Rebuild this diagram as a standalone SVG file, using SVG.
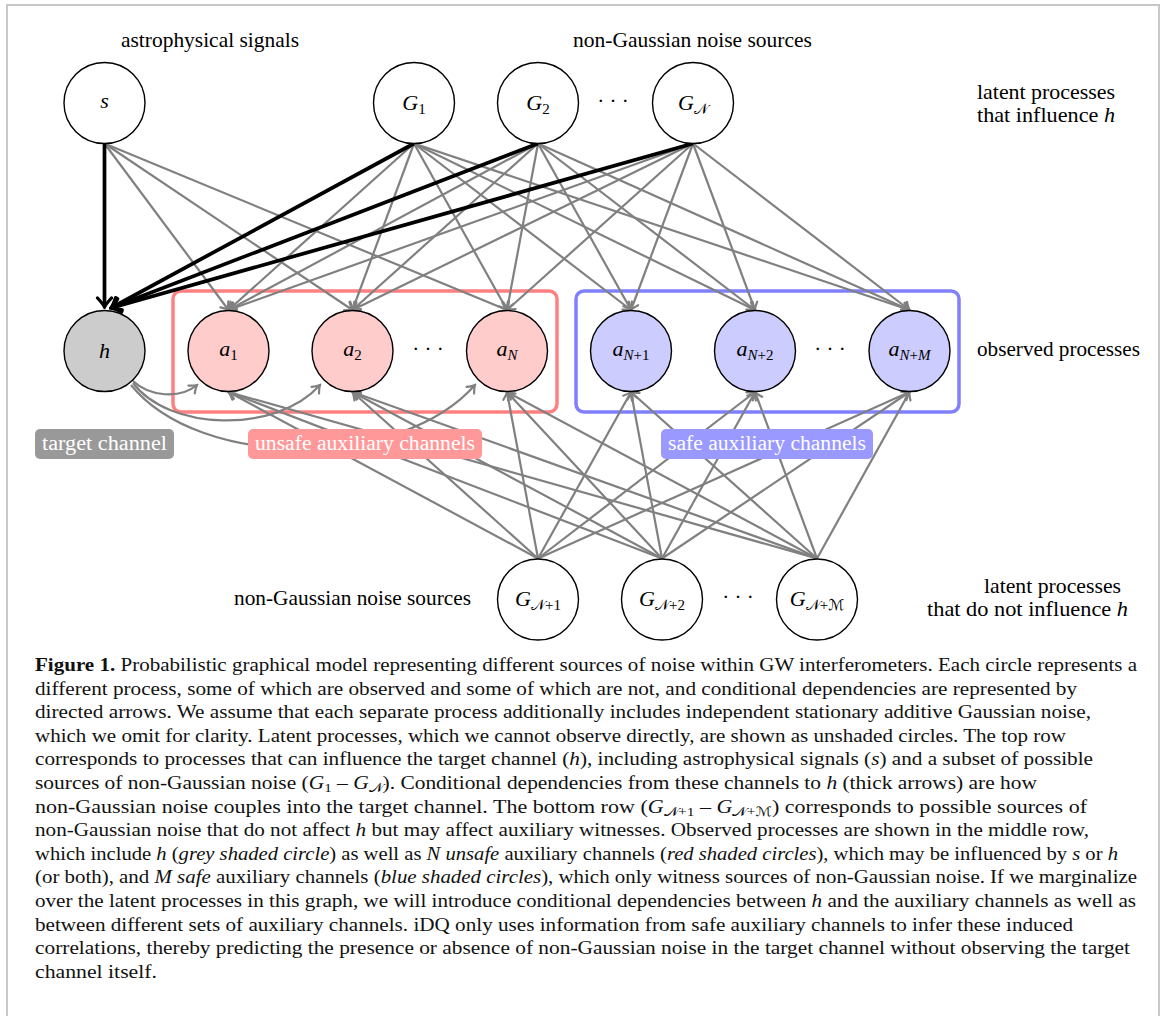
<svg xmlns="http://www.w3.org/2000/svg" width="1167" height="1016" viewBox="0 0 1167 1016" font-family="'Liberation Serif', 'Times New Roman', serif">
<defs>
<style>
.lbl{font-family:'Liberation Serif','Times New Roman',serif;font-size:21px;fill:#000}
.m{font-family:'Liberation Serif','Times New Roman',serif;font-style:italic;font-size:22px;text-anchor:middle;fill:#000}
.sb{font-size:15px;font-style:normal}
.it{font-style:italic}
.cal{font-family:'DejaVu Sans','Noto Sans',serif;font-style:normal}
.cap{font-family:'Liberation Serif','Times New Roman',serif;font-size:18.5px;fill:#111}
.tag{font-family:'Liberation Serif','Times New Roman',serif;font-size:20px;fill:#fff;text-anchor:middle}
.n{stroke:#000;stroke-width:1.4;fill:#fff}
.e{stroke:#808080;stroke-width:2.2;fill:none;marker-end:url(#ag)}
.t{stroke:#000;stroke-width:3.7;fill:none;marker-end:url(#ab)}
</style>
<marker id="ag" viewBox="-10 -8 12 16" markerWidth="12" markerHeight="16" refX="0" refY="0" orient="auto" markerUnits="userSpaceOnUse">
<path d="M-7,-5 Q-2.5,-1 0,0 Q-2.5,1 -7,5" fill="none" stroke="#808080" stroke-width="2.2" stroke-linecap="round"/>
</marker>
<marker id="ab" viewBox="-12 -10 14 20" markerWidth="14" markerHeight="20" refX="0" refY="0" orient="auto" markerUnits="userSpaceOnUse">
<path d="M-9,-7 Q-3,-1.5 0,0 Q-3,1.5 -9,7" fill="none" stroke="#000" stroke-width="3.2" stroke-linecap="round"/>
</marker>
</defs>
<rect width="1167" height="1016" fill="#fff"/>
<path d="M7,1016 V5 H1159 V1016" fill="none" stroke="#c8c8c8" stroke-width="2"/>

<g id="group-unsafe">
<rect x="173" y="291" width="384" height="121" rx="8" fill="none" stroke="#ff8080" stroke-width="3.5"/>
</g>
<g id="group-safe">
<rect x="576" y="291" width="383" height="121" rx="8" fill="none" stroke="#8080ff" stroke-width="3.5"/>
</g>

<g id="connectors">
<path class="e" d="M104.5,143.5 L228.5,310"/>
<path class="e" d="M104.5,143.5 L352.5,310"/>
<path class="e" d="M104.5,143.5 L507,310"/>
<path class="e" d="M414,143.5 L228.5,310"/>
<path class="e" d="M414,143.5 L352.5,310"/>
<path class="e" d="M414,143.5 L507,310"/>
<path class="e" d="M414,143.5 L631,310"/>
<path class="e" d="M414,143.5 L755,310"/>
<path class="e" d="M414,143.5 L909.5,310"/>
<path class="e" d="M538,143.5 L228.5,310"/>
<path class="e" d="M538,143.5 L352.5,310"/>
<path class="e" d="M538,143.5 L507,310"/>
<path class="e" d="M538,143.5 L631,310"/>
<path class="e" d="M538,143.5 L755,310"/>
<path class="e" d="M538,143.5 L909.5,310"/>
<path class="e" d="M693,143.5 L228.5,310"/>
<path class="e" d="M693,143.5 L352.5,310"/>
<path class="e" d="M693,143.5 L507,310"/>
<path class="e" d="M693,143.5 L631,310"/>
<path class="e" d="M693,143.5 L755,310"/>
<path class="e" d="M693,143.5 L909.5,310"/>
<path class="t" d="M104.5,143.5 L104.5,307"/>
<path class="t" d="M414,143.5 L111,308"/>
<path class="t" d="M538,143.5 L111,308"/>
<path class="t" d="M693,143.5 L111,308"/>
<path class="e" d="M538,558.5 L228.5,392"/>
<path class="e" d="M538,558.5 L352.5,392"/>
<path class="e" d="M538,558.5 L507,392"/>
<path class="e" d="M538,558.5 L631,392"/>
<path class="e" d="M538,558.5 L755,392"/>
<path class="e" d="M538,558.5 L909.5,392"/>
<path class="e" d="M662,558.5 L228.5,392"/>
<path class="e" d="M662,558.5 L352.5,392"/>
<path class="e" d="M662,558.5 L507,392"/>
<path class="e" d="M662,558.5 L631,392"/>
<path class="e" d="M662,558.5 L755,392"/>
<path class="e" d="M662,558.5 L909.5,392"/>
<path class="e" d="M817,558.5 L228.5,392"/>
<path class="e" d="M817,558.5 L352.5,392"/>
<path class="e" d="M817,558.5 L507,392"/>
<path class="e" d="M817,558.5 L631,392"/>
<path class="e" d="M817,558.5 L755,392"/>
<path class="e" d="M817,558.5 L909.5,392"/>
<path class="e" d="M133,381 C150,397 180,399 197,385"/>
<path class="e" d="M133,383 C168,430 275,435 320,385"/>
<path class="e" d="M131,385 C200,470 400,470 475,385"/>
</g>

<g id="node-s"><circle class="n" cx="104.5" cy="103" r="40.5"/><text class="m" x="104.5" y="108">s</text></g>
<g id="node-G1"><circle class="n" cx="414" cy="103" r="40.5"/><text class="m" x="414" y="110">G<tspan class="sb" dy="4">1</tspan></text></g>
<g id="node-G2"><circle class="n" cx="538" cy="103" r="40.5"/><text class="m" x="538" y="110">G<tspan class="sb" dy="4">2</tspan></text></g>
<g id="dots-top"><text class="lbl" x="613" y="108" text-anchor="middle">· · ·</text></g>
<g id="node-GN"><circle class="n" cx="693" cy="103" r="40.5"/><text class="m" x="693" y="110">G<tspan class="sb cal" dy="4">𝒩</tspan></text></g>

<g id="node-h"><circle cx="104.5" cy="351" r="40.5" class="n" style="fill:#cccccc"/><text class="m" x="104.5" y="358">h</text></g>
<g id="node-a1"><circle cx="228.5" cy="351" r="40.5" class="n" style="fill:#ffcccc"/><text class="m" x="228.5" y="356">a<tspan class="sb" dy="4">1</tspan></text></g>
<g id="node-a2"><circle cx="352.5" cy="351" r="40.5" class="n" style="fill:#ffcccc"/><text class="m" x="352.5" y="356">a<tspan class="sb" dy="4">2</tspan></text></g>
<g id="dots-unsafe"><text class="lbl" x="428" y="356" text-anchor="middle">· · ·</text></g>
<g id="node-aN"><circle cx="507" cy="351" r="40.5" class="n" style="fill:#ffcccc"/><text class="m" x="507" y="356">a<tspan class="sb it" dy="4">N</tspan></text></g>
<g id="node-aN1"><circle cx="631" cy="351" r="40.5" class="n" style="fill:#ccccff"/><text class="m" x="631" y="356">a<tspan class="sb" dy="4"><tspan class="it">N</tspan>+1</tspan></text></g>
<g id="node-aN2"><circle cx="755" cy="351" r="40.5" class="n" style="fill:#ccccff"/><text class="m" x="755" y="356">a<tspan class="sb" dy="4"><tspan class="it">N</tspan>+2</tspan></text></g>
<g id="dots-safe"><text class="lbl" x="830" y="356" text-anchor="middle">· · ·</text></g>
<g id="node-aNM"><circle cx="909.5" cy="351" r="40.5" class="n" style="fill:#ccccff"/><text class="m" x="909.5" y="356">a<tspan class="sb" dy="4"><tspan class="it">N</tspan>+<tspan class="it">M</tspan></tspan></text></g>

<g id="node-GN1"><circle class="n" cx="538" cy="599.5" r="40.5"/><text class="m" x="538" y="606">G<tspan class="sb" dy="4"><tspan class="cal">𝒩</tspan>+1</tspan></text></g>
<g id="node-GN2"><circle class="n" cx="662" cy="599.5" r="40.5"/><text class="m" x="662" y="606">G<tspan class="sb" dy="4"><tspan class="cal">𝒩</tspan>+2</tspan></text></g>
<g id="dots-bottom"><text class="lbl" x="738" y="604" text-anchor="middle">· · ·</text></g>
<g id="node-GNM"><circle class="n" cx="817" cy="599.5" r="40.5"/><text class="m" x="817" y="606">G<tspan class="sb" dy="4"><tspan class="cal">𝒩</tspan>+<tspan class="cal">ℳ</tspan></tspan></text></g>

<g id="tag-target"><rect x="35" y="429" width="139" height="30" rx="5" fill="#999999"/><text class="tag" x="104.5" y="450" textLength="125" lengthAdjust="spacingAndGlyphs">target channel</text></g>
<g id="tag-unsafe"><rect x="248" y="429" width="234" height="30" rx="5" fill="#ff9999"/><text class="tag" x="365" y="450" textLength="220" lengthAdjust="spacingAndGlyphs">unsafe auxiliary channels</text></g>
<g id="tag-safe"><rect x="661" y="429" width="212" height="30" rx="5" fill="#9999ff"/><text class="tag" x="767" y="450" textLength="198" lengthAdjust="spacingAndGlyphs">safe auxiliary channels</text></g>

<g id="annotations">
<text class="lbl" x="121" y="47" textLength="178" lengthAdjust="spacingAndGlyphs">astrophysical signals</text>
<text class="lbl" x="573" y="47" textLength="239" lengthAdjust="spacingAndGlyphs">non-Gaussian noise sources</text>
<text class="lbl" x="977" y="99" textLength="138" lengthAdjust="spacingAndGlyphs">latent processes</text>
<text class="lbl" x="977" y="122" textLength="138" lengthAdjust="spacingAndGlyphs">that influence <tspan class="it">h</tspan></text>
<text class="lbl" x="977" y="356" textLength="163" lengthAdjust="spacingAndGlyphs">observed processes</text>
<text class="lbl" x="234" y="605" textLength="237" lengthAdjust="spacingAndGlyphs">non-Gaussian noise sources</text>
<text class="lbl" x="984" y="593" textLength="137" lengthAdjust="spacingAndGlyphs">latent processes</text>
<text class="lbl" x="927" y="616" textLength="201" lengthAdjust="spacingAndGlyphs">that do not influence <tspan class="it">h</tspan></text>
</g>

<g id="caption" class="cap">
<text x="35" y="671" textLength="1102" lengthAdjust="spacingAndGlyphs"><tspan font-weight="bold">Figure 1.</tspan> Probabilistic graphical model representing different sources of noise within GW interferometers. Each circle represents a</text>
<text x="35" y="694.6" textLength="1042" lengthAdjust="spacingAndGlyphs">different process, some of which are observed and some of which are not, and conditional dependencies are represented by</text>
<text x="35" y="718.2" textLength="1056" lengthAdjust="spacingAndGlyphs">directed arrows. We assume that each separate process additionally includes independent stationary additive Gaussian noise,</text>
<text x="35" y="741.8" textLength="1031" lengthAdjust="spacingAndGlyphs">which we omit for clarity. Latent processes, which we cannot observe directly, are shown as unshaded circles. The top row</text>
<text x="35" y="765.4" textLength="1058" lengthAdjust="spacingAndGlyphs">corresponds to processes that can influence the target channel (<tspan class="it">h</tspan>), including astrophysical signals (<tspan class="it">s</tspan>) and a subset of possible</text>
<text x="35" y="789" textLength="1002" lengthAdjust="spacingAndGlyphs">sources of non-Gaussian noise (<tspan class="it">G</tspan><tspan font-size="13" dy="3">1</tspan><tspan dy="-3"> – </tspan><tspan class="it">G</tspan><tspan font-size="13" dy="3" class="cal">𝒩</tspan><tspan dy="-3">). Conditional dependencies from these channels to </tspan><tspan class="it">h</tspan> (thick arrows) are how</text>
<text x="35" y="812.6" textLength="1052" lengthAdjust="spacingAndGlyphs">non-Gaussian noise couples into the target channel. The bottom row (<tspan class="it">G</tspan><tspan font-size="13" dy="3"><tspan class="cal">𝒩</tspan>+1</tspan><tspan dy="-3"> – </tspan><tspan class="it">G</tspan><tspan font-size="13" dy="3"><tspan class="cal">𝒩</tspan>+<tspan class="cal">ℳ</tspan></tspan><tspan dy="-3">) corresponds to possible sources of</tspan></text>
<text x="35" y="836.2" textLength="1054" lengthAdjust="spacingAndGlyphs">non-Gaussian noise that do not affect <tspan class="it">h</tspan> but may affect auxiliary witnesses. Observed processes are shown in the middle row,</text>
<text x="35" y="859.8" textLength="1083" lengthAdjust="spacingAndGlyphs">which include <tspan class="it">h</tspan> (<tspan class="it">grey shaded circle</tspan>) as well as <tspan class="it">N unsafe</tspan> auxiliary channels (<tspan class="it">red shaded circles</tspan>), which may be influenced by <tspan class="it">s</tspan> or <tspan class="it">h</tspan></text>
<text x="35" y="883.4" textLength="1102" lengthAdjust="spacingAndGlyphs">(or both), and <tspan class="it">M safe</tspan> auxiliary channels (<tspan class="it">blue shaded circles</tspan>), which only witness sources of non-Gaussian noise. If we marginalize</text>
<text x="35" y="907" textLength="1101" lengthAdjust="spacingAndGlyphs">over the latent processes in this graph, we will introduce conditional dependencies between <tspan class="it">h</tspan> and the auxiliary channels as well as</text>
<text x="35" y="930.6" textLength="1038" lengthAdjust="spacingAndGlyphs">between different sets of auxiliary channels. iDQ only uses information from safe auxiliary channels to infer these induced</text>
<text x="35" y="954.2" textLength="1095" lengthAdjust="spacingAndGlyphs">correlations, thereby predicting the presence or absence of non-Gaussian noise in the target channel without observing the target</text>
<text x="35" y="977.8" textLength="122" lengthAdjust="spacingAndGlyphs">channel itself.</text>
</g>
</svg>
